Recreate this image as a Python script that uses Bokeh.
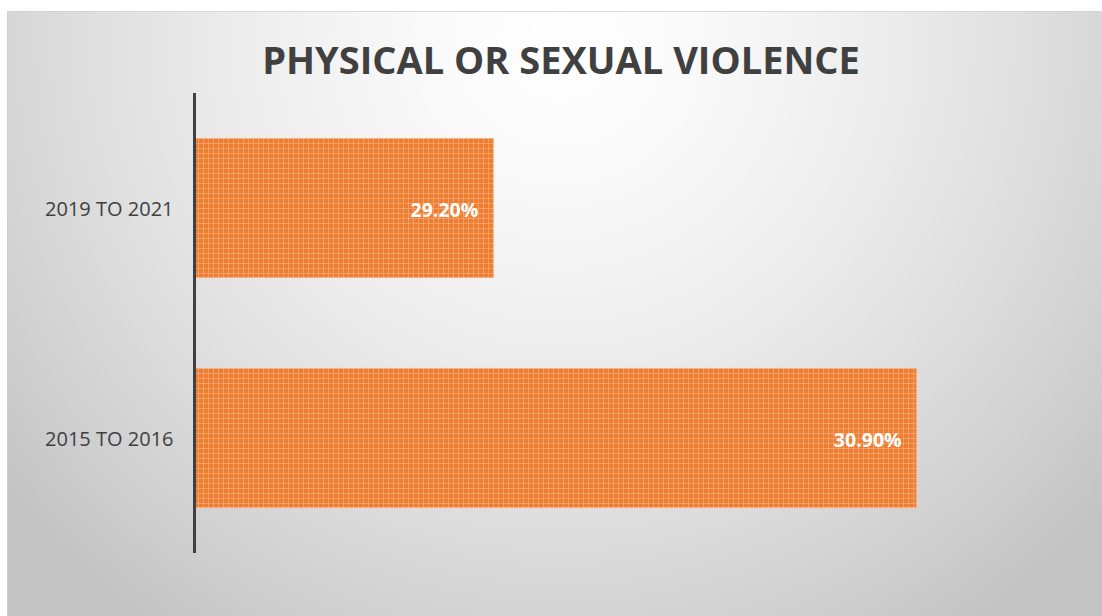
import numpy as np
from bokeh.plotting import figure
from bokeh.models import Range1d, ColumnDataSource, Label
from bokeh.core.properties import value
from bokeh.embed import file_html
from bokeh.resources import INLINE

# ---- data ----
categories = ["2015 TO 2016", "2019 TO 2021"]   # bottom to top
values = [30.9, 29.2]
value_labels = ["30.90%", "29.20%"]
title_text = "PHYSICAL OR SEXUAL VIOLENCE"
axis_start = 28.0

W, H = 1102, 616
ML, MT = 7, 11
FW, FH = W - ML, H - MT

# pixel calibration
px_per_unit = 249.0
axis_px = 194.0
x_lo = axis_start - (axis_px - ML) / px_per_unit
x_hi = axis_start + (W - axis_px) / px_per_unit
cat_px = 230.0
y_lo = 0 - (H - 437.5) / cat_px
y_hi = 1 + (207.5 - MT) / cat_px

p = figure(width=W, height=H, output_backend="svg", toolbar_location=None,
           x_range=Range1d(x_lo, x_hi), y_range=Range1d(y_lo, y_hi),
           min_border_left=ML, min_border_top=MT, min_border_right=0, min_border_bottom=0)
p.xaxis.visible = False
p.yaxis.visible = False
p.xgrid.visible = False
p.ygrid.visible = False
p.border_fill_color = "white"
p.outline_line_color = "#d0d0d0"
p.outline_line_width = 1

# radial gradient background
gh, gw = FH // 2, FW // 2
ys = (np.arange(gh)[::-1] + 0.5) * (FH / gh) + MT     # row 0 = bottom
xs = (np.arange(gw) + 0.5) * (FW / gw) + ML
X, Y = np.meshgrid(xs, ys)
cx, cy = 560.0, 40.0
r = np.sqrt((X - cx) ** 2 + (Y - cy) ** 2) / 720.0
r = np.clip(r, 0, 1) ** 1.5
g = np.round(254 - r * 59).astype(np.uint32)
img = (255 << 24) | (g << 16) | (g << 8) | g
p.image_rgba(image=[img.astype(np.uint32)], x=x_lo, y=y_lo, dw=x_hi - x_lo, dh=y_hi - y_lo)

pos = list(range(len(categories)))
src = ColumnDataSource(dict(y=pos, right=values, cat=categories, lab=value_labels,
                            left=[axis_start] * len(pos)))

p.hbar(y="y", left="left", right="right", height=0.605, source=src,
       fill_color="#ED7D31", line_color="#f5b48a", line_width=1,
       hatch_pattern="+", hatch_color="#f7b88c", hatch_alpha=0.55,
       hatch_scale=5, hatch_weight=1)

# vertical axis line
p.segment(x0=[axis_start], y0=[pos[0] - 0.5], x1=[axis_start], y1=[pos[-1] + 0.5],
          line_color="#404040", line_width=3)

# category labels
p.text(x="left", y="y", text="cat", source=src, x_offset=-21,
       text_align="right", text_baseline="middle", text_font=value("Open Sans"),
       text_font_size="20px", text_color="#404040")

# value labels
p.text(x="right", y="y", text="lab", source=src, x_offset=-15, y_offset=1,
       text_align="right", text_baseline="middle", text_font=value("Open Sans"),
       text_font_size="19.5px", text_font_style="bold", text_color="white")

p.add_layout(Label(x=560.5 - ML, y=H - 58, x_units="screen", y_units="screen",
                   text=title_text, text_align="center", text_baseline="alphabetic",
                   text_font="Open Sans", text_font_size="38px", text_font_style="bold",
                   text_color="#404040"))

open("out.html", "w").write(file_html(p, INLINE))
